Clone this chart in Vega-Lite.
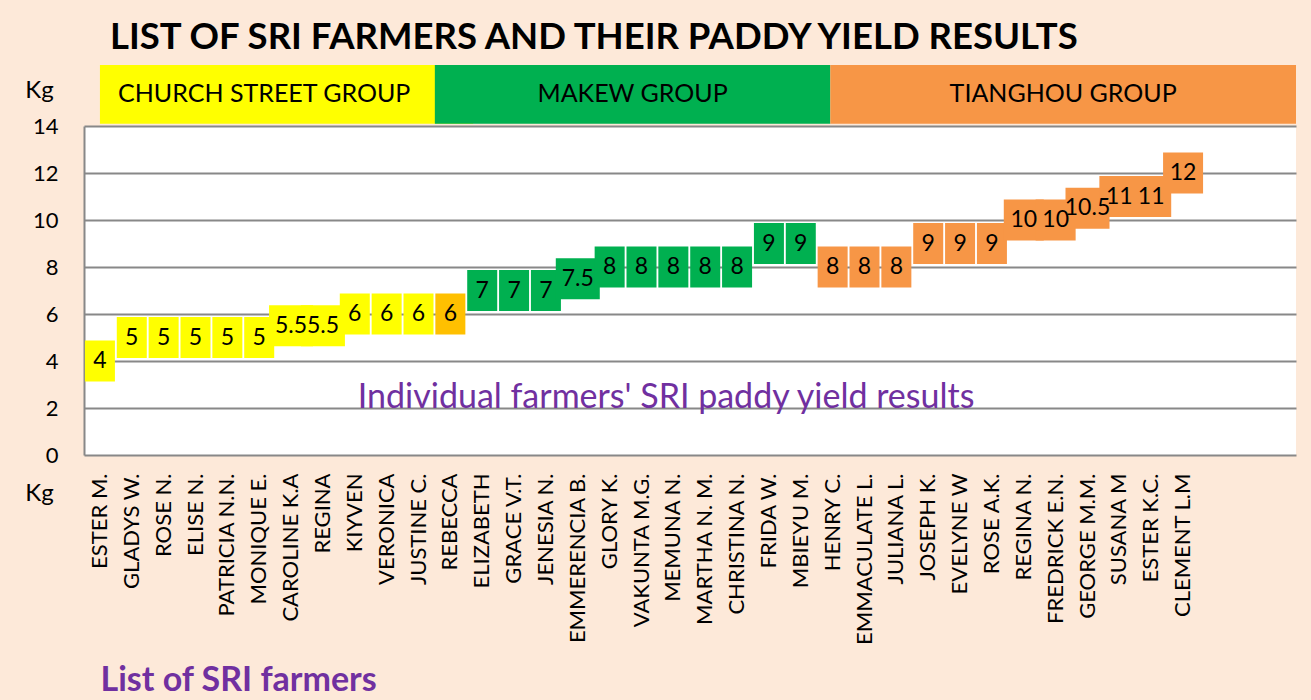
{
  "$schema": "https://vega.github.io/schema/vega-lite/v6.json",
  "autosize": {"type": "none"},
  "width": 1212,
  "height": 329,
  "padding": {"left": 84, "top": 126, "right": 15, "bottom": 245},
  "background": "#FDE9D9",
  "view": {"fill": "white", "stroke": null},
  "config": {"font": "Lato"},
  "title": {
    "text": "LIST OF SRI FARMERS AND THEIR PADDY YIELD RESULTS",
    "anchor": "start",
    "frame": "group",
    "dx": 26,
    "dy": 47,
    "offset": 26,
    "fontSize": 36.5,
    "fontWeight": "bold",
    "color": "black",
    "baseline": "alphabetic"
  },
  "datasets": {
    "farmers": [
      {"farmer": "ESTER M.", "yield": 4, "group": "CHURCH STREET GROUP"},
      {"farmer": "GLADYS W.", "yield": 5, "group": "CHURCH STREET GROUP"},
      {"farmer": "ROSE N.", "yield": 5, "group": "CHURCH STREET GROUP"},
      {"farmer": "ELISE N.", "yield": 5, "group": "CHURCH STREET GROUP"},
      {"farmer": "PATRICIA N.N.", "yield": 5, "group": "CHURCH STREET GROUP"},
      {"farmer": "MONIQUE E.", "yield": 5, "group": "CHURCH STREET GROUP"},
      {"farmer": "CAROLINE K.A", "yield": 5.5, "group": "CHURCH STREET GROUP"},
      {"farmer": "REGINA", "yield": 5.5, "group": "CHURCH STREET GROUP"},
      {"farmer": "KIYVEN", "yield": 6, "group": "CHURCH STREET GROUP"},
      {"farmer": "VERONICA", "yield": 6, "group": "CHURCH STREET GROUP"},
      {"farmer": "JUSTINE C.", "yield": 6, "group": "CHURCH STREET GROUP"},
      {"farmer": "REBECCA", "yield": 6, "group": "CHURCH STREET GROUP"},
      {"farmer": "ELIZABETH", "yield": 7, "group": "MAKEW GROUP"},
      {"farmer": "GRACE V.T.", "yield": 7, "group": "MAKEW GROUP"},
      {"farmer": "JENESIA N.", "yield": 7, "group": "MAKEW GROUP"},
      {"farmer": "EMMERENCIA B.", "yield": 7.5, "group": "MAKEW GROUP"},
      {"farmer": "GLORY K.", "yield": 8, "group": "MAKEW GROUP"},
      {"farmer": "VAKUNTA M.G.", "yield": 8, "group": "MAKEW GROUP"},
      {"farmer": "MEMUNA N.", "yield": 8, "group": "MAKEW GROUP"},
      {"farmer": "MARTHA N. M.", "yield": 8, "group": "MAKEW GROUP"},
      {"farmer": "CHRISTINA N.", "yield": 8, "group": "MAKEW GROUP"},
      {"farmer": "FRIDA W.", "yield": 9, "group": "MAKEW GROUP"},
      {"farmer": "MBIEYU M.", "yield": 9, "group": "MAKEW GROUP"},
      {"farmer": "HENRY C.", "yield": 8, "group": "TIANGHOU GROUP"},
      {"farmer": "EMMACULATE L.", "yield": 8, "group": "TIANGHOU GROUP"},
      {"farmer": "JULIANA L.", "yield": 8, "group": "TIANGHOU GROUP"},
      {"farmer": "JOSEPH K.", "yield": 9, "group": "TIANGHOU GROUP"},
      {"farmer": "EVELYNE W", "yield": 9, "group": "TIANGHOU GROUP"},
      {"farmer": "ROSE A.K.", "yield": 9, "group": "TIANGHOU GROUP"},
      {"farmer": "REGINA N.", "yield": 10, "group": "TIANGHOU GROUP"},
      {"farmer": "FREDRICK E.N.", "yield": 10, "group": "TIANGHOU GROUP"},
      {"farmer": "GEORGE M.M.", "yield": 10.5, "group": "TIANGHOU GROUP"},
      {"farmer": "SUSANA M", "yield": 11, "group": "TIANGHOU GROUP"},
      {"farmer": "ESTER K.C.", "yield": 11, "group": "TIANGHOU GROUP"},
      {"farmer": "CLEMENT L.M", "yield": 12, "group": "TIANGHOU GROUP"}
    ],
    "groups": [
      {"group": "CHURCH STREET GROUP", "from": 0.5, "to": 12.2, "center": 5.65},
      {"group": "MAKEW GROUP", "from": 11, "to": 23.4, "center": 17.2},
      {"group": "TIANGHOU GROUP", "from": 23.4, "to": 38, "center": 30.7}
    ],
    "notes": [
      {"note": "Individual farmers' SRI paddy yield results", "slot": 18.25, "level": 2}
    ]
  },
  "layer": [
    {
      "layer": [
        {
          "data": {"name": "groups"},
          "mark": {"type": "rect"},
          "encoding": {
            "x": {
              "field": "from", "type": "quantitative",
              "scale": {"domain": [0, 38], "nice": false, "zero": false},
              "axis": {
                "orient": "bottom", "labels": false, "ticks": false, "domain": false, "grid": false,
                "title": "Kg", "titleX": -45, "titleY": 38, "titleAngle": 0,
                "titleAlign": "center", "titleBaseline": "middle",
                "titleFontSize": 24, "titleFontWeight": "normal", "titleColor": "black", "titleFont": "Lato"
              }
            },
            "x2": {"field": "to"},
            "y": {
              "datum": 14.1, "type": "quantitative", "scale": {"domain": [0, 14], "nice": false},
              "axis": {
                "values": [0, 2, 4, 6, 8, 10, 12, 14], "labelFontSize": 22, "labelColor": "black",
                "labelPadding": 26, "ticks": false, "domain": true, "domainColor": "#888888", "domainWidth": 2,
                "grid": true, "gridColor": "#888888", "gridWidth": 2, "gridOpacity": 1,
                "title": "Kg", "titleAngle": 0, "titleX": -45, "titleY": -36,
                "titleAlign": "center", "titleBaseline": "middle", "titleFontSize": 24,
                "titleFontWeight": "normal", "titleColor": "black"
              }
            },
            "y2": {"datum": 16.6},
            "color": {
              "field": "group", "type": "nominal", "legend": null,
              "scale": {"domain": ["CHURCH STREET GROUP", "MAKEW GROUP", "TIANGHOU GROUP"], "range": ["#FFFF00", "#00B050", "#F79646"]}
            }
          }
        },
        {
          "data": {"name": "groups"},
          "mark": {"type": "text", "fontSize": 25, "color": "black", "baseline": "middle", "align": "center"},
          "encoding": {
            "x": {"field": "center", "type": "quantitative"},
            "y": {"datum": 15.35, "type": "quantitative"},
            "text": {"field": "group"}
          }
        },
        {
          "data": {"name": "notes"},
          "mark": {"type": "text", "fontSize": 34, "color": "#7030A0", "baseline": "alphabetic", "align": "center"},
          "encoding": {
            "x": {"field": "slot", "type": "quantitative"},
            "y": {"field": "level", "type": "quantitative"},
            "text": {"field": "note"}
          }
        }
      ]
    },
    {
      "data": {"name": "farmers"},
      "layer": [
        {
          "mark": {"type": "rect", "height": 41, "width": {"expr": "datum.yield % 1 !== 0 ? 44 : (datum.yield >= 10 ? 40 : 30)"}},
          "encoding": {
            "x": {
              "field": "farmer", "type": "nominal", "sort": null,
              "scale": {"range": [0, 1115], "paddingInner": 0, "paddingOuter": 0},
              "axis": {
                "orient": "bottom", "labelAngle": -90, "labelFontSize": 22, "labelColor": "black",
                "labelPadding": 18, "labelOverlap": false, "labelLimit": 400, "ticks": false,
                "domain": false, "grid": false,
                "title": "List of SRI farmers", "titleFontSize": 34, "titleFontWeight": "bold",
                "titleColor": "#7030A0", "titleX": 16, "titleY": 235, "titleAlign": "left",
                "titleBaseline": "alphabetic", "titleAngle": 0
              }
            },
            "y": {
              "field": "yield", "type": "quantitative",
              "scale": {"domain": [0, 14], "nice": false},
              "axis": {
                "values": [0, 2, 4, 6, 8, 10, 12, 14], "labelFontSize": 22, "labelColor": "black",
                "labelPadding": 26, "ticks": false, "domain": true, "domainColor": "#888888", "domainWidth": 2,
                "grid": true, "gridColor": "#888888", "gridWidth": 2, "gridOpacity": 1,
                "title": "Kg", "titleAngle": 0, "titleX": -45, "titleY": -36,
                "titleAlign": "center", "titleBaseline": "middle", "titleFontSize": 24,
                "titleFontWeight": "normal", "titleColor": "black"
              }
            },
            "color": {
              "condition": {"test": "datum.farmer === 'REBECCA'", "value": "#FFC000"},
              "field": "group", "type": "nominal", "legend": null,
              "scale": {"domain": ["CHURCH STREET GROUP", "MAKEW GROUP", "TIANGHOU GROUP"], "range": ["#FFFF00", "#00B050", "#F79646"]}
            }
          }
        },
        {
          "mark": {"type": "text", "fontSize": 23, "color": "black", "baseline": "middle", "align": "center"},
          "encoding": {
            "x": {"field": "farmer", "type": "nominal", "sort": null},
            "y": {"field": "yield", "type": "quantitative"},
            "text": {"field": "yield", "type": "quantitative"}
          }
        }
      ]
    }
  ],
  "resolve": {"scale": {"x": "independent"}}
}
